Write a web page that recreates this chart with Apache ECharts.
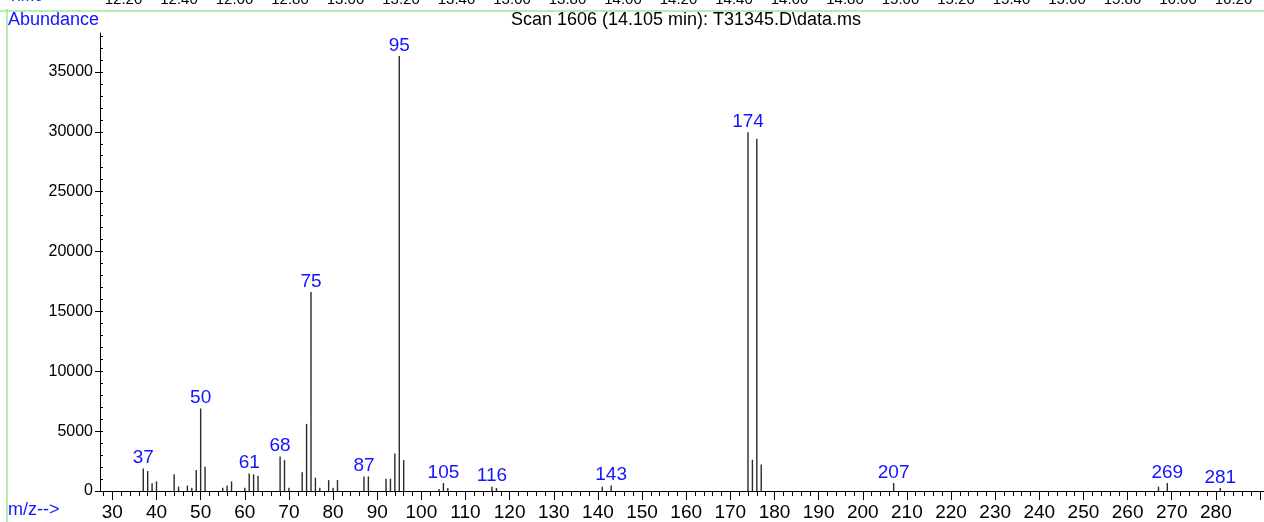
<!DOCTYPE html>
<html>
<head>
<meta charset="utf-8">
<script src="https://cdn.jsdelivr.net/npm/echarts@6/dist/echarts.min.js"></script>
<style>
html,body{margin:0;padding:0;background:#fff;}
#chart{width:1264px;height:522px;}
</style>
</head>
<body>
<div id="chart"></div>
<script>
// m/z values and abundances
const mzValues = [37,38,39,40,44,45,47,48,49,50,51,55,56,57,60,61,62,63,68,69,70,73,74,75,76,77,79,80,81,87,88,92,93,94,95,96,104,105,106,116,117,141,143,174,175,176,177,207,267,269,281];
const abundances = [1870,1670,640,800,1390,370,450,280,1750,6890,2030,280,450,800,280,1470,1390,1280,2890,2580,280,1560,5610,16610,1110,280,910,280,910,1220,1220,1030,1030,3140,36330,2580,170,670,250,360,250,360,450,29970,2610,29420,2220,670,360,670,250];
// peaks that carry an m/z label
const labeledPeaks = [37,50,61,68,75,87,95,105,116,143,174,207,269,281];
// axis tick labels
const mzTickLabels = [30,40,50,60,70,80,90,100,110,120,130,140,150,160,170,180,190,200,210,220,230,240,250,260,270,280];
const mzMajorTicks = mzTickLabels.concat([290]);
const mzMinorTicks = [28,30,32,34,36,38,40,42,44,46,48,50,52,54,56,58,60,62,64,66,68,70,72,74,76,78,80,82,84,86,88,90,92,94,96,98,100,102,104,106,108,110,112,114,116,118,120,122,124,126,128,130,132,134,136,138,140,142,144,146,148,150,152,154,156,158,160,162,164,166,168,170,172,174,176,178,180,182,184,186,188,190,192,194,196,198,200,202,204,206,208,210,212,214,216,218,220,222,224,226,228,230,232,234,236,238,240,242,244,246,248,250,252,254,256,258,260,262,264,266,268,270,272,274,276,278,280,282,284,286,288,290];
const abundanceTickLabels = [0,5000,10000,15000,20000,25000,30000,35000];
const abundanceMinorTicks = [0,1000,2000,3000,4000,5000,6000,7000,8000,9000,10000,11000,12000,13000,14000,15000,16000,17000,18000,19000,20000,21000,22000,23000,24000,25000,26000,27000,28000,29000,30000,31000,32000,33000,34000,35000,36000,37000,38000];
const timeTickLabels = [12.2,12.4,12.6,12.8,13.0,13.2,13.4,13.6,13.8,14.0,14.2,14.4,14.6,14.8,15.0,15.2,15.4,15.6,15.8,16.0,16.2];

const FONT = '"Liberation Sans", Arial, sans-serif';
const BLUE = '#1414ff';
const GREEN = '#9de89d';

const chart = echarts.init(document.getElementById('chart'), null, {renderer:'canvas'});
const seriesData = mzValues.map((m,i)=>[m, abundances[i]]);

chart.setOption({
  animation:false,
  backgroundColor:'#fff',
  grid:[
    {left:100, right:0, top:33, bottom:30},
    {left:0, right:0, top:9, height:1}
  ],
  xAxis:[
    {type:'value', gridIndex:0, min:27.2, max:290.9, position:'bottom',
     axisLine:{show:true, lineStyle:{color:'#000', width:1}},
     axisTick:{show:true, customValues:mzMajorTicks, length:9, lineStyle:{color:'#000'}},
     axisLabel:{show:true, customValues:mzTickLabels, color:'#000', fontFamily:FONT, fontSize:19, margin:12},
     splitLine:{show:false}},
    {type:'value', gridIndex:0, min:27.2, max:290.9, position:'bottom',
     axisLine:{show:false},
     axisTick:{show:true, customValues:mzMinorTicks, length:5, lineStyle:{color:'#000'}},
     axisLabel:{show:false}, splitLine:{show:false}},
    {type:'value', gridIndex:1, min:11.755, max:16.31, position:'top',
     axisLine:{show:true, lineStyle:{color:GREEN, width:1.5}},
     axisTick:{show:false},
     axisLabel:{show:true, customValues:timeTickLabels, formatter:v=>v.toFixed(2), color:'#000', fontFamily:FONT, fontSize:15, margin:3},
     splitLine:{show:false}}
  ],
  yAxis:[
    {type:'value', gridIndex:0, min:0, max:38250, position:'left',
     axisLine:{show:true, lineStyle:{color:'#000', width:1}},
     axisTick:{show:true, customValues:abundanceTickLabels, length:5, lineStyle:{color:'#000'}},
     axisLabel:{show:true, customValues:abundanceTickLabels, formatter:v=>String(v), color:'#000', fontFamily:FONT, fontSize:16, margin:7},
     splitLine:{show:false}},
    {type:'value', gridIndex:0, min:0, max:38250, position:'left',
     axisLine:{show:false},
     axisTick:{show:true, inside:true, customValues:abundanceMinorTicks, length:3, lineStyle:{color:'#000'}},
     axisLabel:{show:false}, splitLine:{show:false}},
    {type:'value', gridIndex:1, show:false}
  ],
  series:[{
    type:'custom',
    xAxisIndex:0, yAxisIndex:0,
    data:seriesData,
    clip:false,
    renderItem:function(params, api){
      const m = api.value(0), v = api.value(1);
      const p0 = api.coord([m,0]);
      const p1 = api.coord([m,v]);
      const children = [{
        type:'line',
        shape:{x1:p0[0], y1:p0[1], x2:p1[0], y2:p1[1]},
        style:{stroke:'#2a2a2a', lineWidth:1.4}
      }];
      if (labeledPeaks.indexOf(m) >= 0) {
        children.push({
          type:'text', x:p1[0], y:p1[1]-1,
          style:{text:String(m), fill:BLUE, font:'19px ' + FONT, align:'center', verticalAlign:'bottom'}
        });
      }
      return {type:'group', children:children};
    }
  }],
  graphic:[
    {type:'line', shape:{x1:7, y1:9, x2:7, y2:522}, style:{stroke:GREEN, lineWidth:1.5}},
    {type:'text', left:8, top:-11, style:{text:'Time-->', fill:BLUE, font:'16px ' + FONT}},
    {type:'text', left:8, top:11, style:{text:'Abundance', fill:BLUE, font:'18px ' + FONT}},
    {type:'text', x:686, y:20, style:{text:'Scan 1606 (14.105 min): T31345.D\\data.ms', fill:'#000', font:'18px ' + FONT, align:'center', verticalAlign:'middle'}},
    {type:'text', left:8, top:501, style:{text:'m/z-->', fill:BLUE, font:'18px ' + FONT}}
  ]
});
</script>
</body>
</html>
